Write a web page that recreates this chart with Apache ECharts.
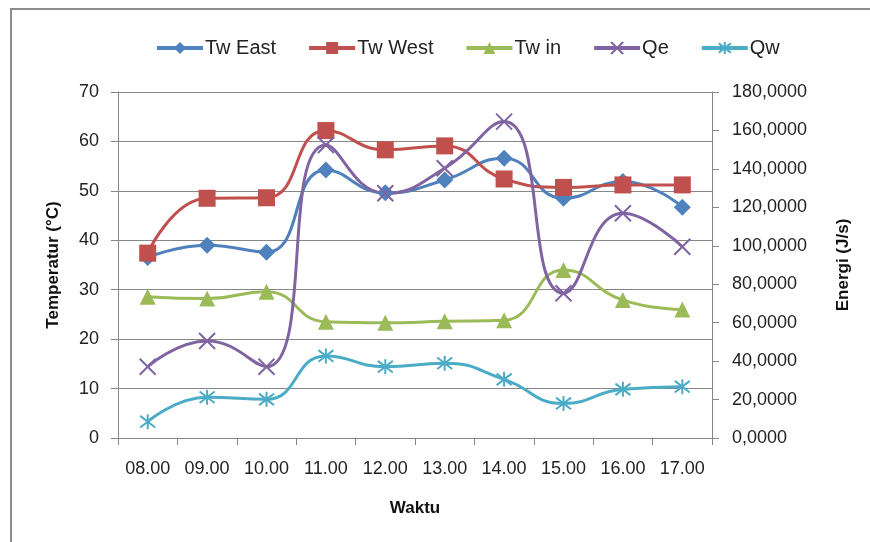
<!DOCTYPE html>
<html>
<head>
<meta charset="utf-8">
<script src="https://cdn.jsdelivr.net/npm/echarts@6/dist/echarts.min.js"></script>
<style>
  html, body { margin: 0; padding: 0; background: #fff; }
  #chart { width: 870px; height: 542px; }
</style>
</head>
<body>
<div id="chart"></div>
<script>
// waktu pengukuran
const hours = ['08.00', '09.00', '10.00', '11.00', '12.00', '13.00', '14.00', '15.00', '16.00', '17.00'];

// temperatur (°C), sumbu kiri
const twEast = [36.5, 39.0, 37.6, 54.2, 49.6, 52.2, 56.6, 48.5, 51.9, 46.7];
const twWest = [37.4, 48.5, 48.6, 62.2, 58.3, 59.1, 52.4, 50.7, 51.2, 51.2];
const twIn   = [28.6, 28.2, 29.6, 23.5, 23.3, 23.6, 23.8, 34.0, 27.9, 26.0];

// energi (J/s), sumbu kanan
const qe = [37.1, 50.5, 37.1, 152.4, 127.3, 140.3, 164.6, 75.3, 116.9, 99.5];
const qw = [8.5, 21.2, 20.1, 42.7, 37.1, 38.9, 30.5, 18.0, 25.3, 26.7];

const FONT = "'Liberation Sans', Arial, sans-serif";
const AXIS_GRAY = '#868686';

const xMark = 'path://M0,0L10,10M0,10L10,0';
const starMark = 'path://M0,0L10,10M0,10L10,0M5,-1.5L5,11.5';

function lineSeries(name, data, color, symbol, size, axis, stroke) {
  return {
    name: name,
    type: 'line',
    yAxisIndex: axis,
    data: data,
    smooth: 0.5,
    symbol: symbol,
    symbolSize: size,
    showAllSymbol: true,
    lineStyle: { color: color, width: 3 },
    itemStyle: stroke
      ? { color: color, borderColor: color, borderWidth: 2 }
      : { color: color },
    emphasis: { disabled: true },
    z: 2
  };
}

const chart = echarts.init(document.getElementById('chart'));

chart.setOption({
  animation: false,
  textStyle: { fontFamily: FONT },
  graphic: [{
    type: 'rect',
    shape: { x: 11, y: 9, width: 900, height: 600 },
    style: { fill: 'none', stroke: '#8c8c8c', lineWidth: 2 },
    silent: true
  }],
  legend: {
    top: 33,
    left: 150,
    itemWidth: 46,
    itemHeight: 15,
    itemGap: 31,
    lineStyle: { width: 4 },
    textStyle: { fontFamily: FONT, fontSize: 20, color: '#222', padding: [0, 0, 0, -3] },
    data: ['Tw East', 'Tw West', 'Tw in', 'Qe', 'Qw']
  },
  grid: { left: 118, right: 158, top: 92, bottom: 104 },
  xAxis: {
    type: 'category',
    data: hours,
    boundaryGap: true,
    name: 'Waktu',
    nameLocation: 'middle',
    nameGap: 62,
    nameTextStyle: { fontFamily: FONT, fontSize: 17, fontWeight: 'bold', color: '#111' },
    axisLine: { lineStyle: { color: AXIS_GRAY, width: 1 } },
    axisTick: { show: true, length: 7, lineStyle: { color: AXIS_GRAY } },
    axisLabel: { fontSize: 18, color: '#222', margin: 22, interval: 0 }
  },
  yAxis: [{
    type: 'value',
    min: 0,
    max: 70,
    interval: 10,
    position: 'left',
    name: 'Temperatur (°C)',
    nameLocation: 'middle',
    nameRotate: 90,
    nameGap: 56,
    nameTextStyle: { fontFamily: FONT, fontSize: 17, fontWeight: 'bold', color: '#111' },
    axisLine: { show: true, lineStyle: { color: AXIS_GRAY } },
    axisTick: { show: true, length: 7, lineStyle: { color: AXIS_GRAY } },
    axisLabel: { fontSize: 18, color: '#222', margin: 19 },
    splitLine: { show: true, lineStyle: { color: AXIS_GRAY, width: 1 } }
  }, {
    type: 'value',
    min: 0,
    max: 180,
    interval: 20,
    position: 'right',
    name: 'Energi (J/s)',
    nameLocation: 'middle',
    nameRotate: 90,
    nameGap: 123,
    nameTextStyle: { fontFamily: FONT, fontSize: 17, fontWeight: 'bold', color: '#111' },
    axisLine: { show: true, lineStyle: { color: AXIS_GRAY } },
    axisTick: { show: true, length: 7, lineStyle: { color: AXIS_GRAY } },
    axisLabel: {
      fontSize: 18,
      color: '#222',
      margin: 20,
      formatter: (v) => v.toFixed(4).replace('.', ',')
    },
    splitLine: { show: false }
  }],
  series: [
    lineSeries('Tw East', twEast, '#4F81BD', 'diamond', 17, 0, false),
    lineSeries('Tw West', twWest, '#C0504D', 'rect', 17, 0, false),
    lineSeries('Tw in', twIn, '#9BBB59', 'triangle', 16, 0, false),
    lineSeries('Qe', qe, '#8064A2', xMark, 16, 1, true),
    lineSeries('Qw', qw, '#4BACC6', starMark, 15, 1, true)
  ]
});
</script>
</body>
</html>
